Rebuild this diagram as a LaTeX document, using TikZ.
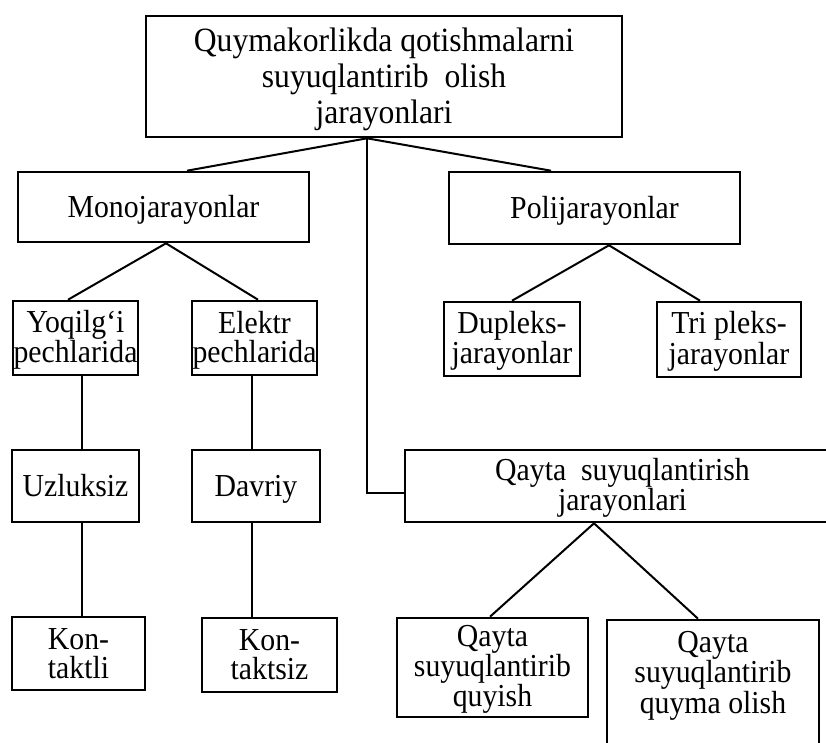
\documentclass[tikz,border=0pt]{standalone}
\usepackage{fontspec}
\setmainfont[FakeStretch=0.93]{Liberation Serif}
\usetikzlibrary{calc}
\tikzset{
  box/.style={draw, line width=2.6pt, inner sep=0pt, align=center,
    text height=20pt, text depth=0pt,
    font=\fontsize{32}{29}\selectfont},
  twolines/.style={text height=49pt},
  threelines/.style={text height=78pt},
  bigbox/.style={box, text height=94pt, font=\fontsize{34}{36}\selectfont},
  conn/.style={line width=2pt},
  plain/.style={inner sep=0pt, align=center, text height=78pt, text depth=0pt,
    font=\fontsize{32}{29}\selectfont}
}
\begin{document}
\begin{tikzpicture}[x=1pt,y=-1pt]
\useasboundingbox (0,0) rectangle (826,742);
\clip (0,0) rectangle (826,742);
\fill[white] (0,0) rectangle (826,742);

\node[bigbox, minimum width=476pt, minimum height=121pt] (top) at (384,76.5)
  {Quymakorlikda qotishmalarni\\suyuqlantirib\ \ olish\\jarayonlari};

\node[box, minimum width=291pt, minimum height=70pt] (mono) at (163.5,207) {Monojarayonlar};
\node[box, minimum width=291pt, minimum height=72pt] (poli) at (594.5,208) {Polijarayonlar};

\node[box, twolines, minimum width=125pt, minimum height=74pt] (yoq) at (75.5,338) {Yoqilg‘i\\pechlarida};
\node[box, twolines, minimum width=125pt, minimum height=74pt] (elek) at (254.5,338) {Elektr\\pechlarida};

\node[box, twolines, minimum width=136pt, minimum height=74pt] (dup) at (512,339) {Dupleks-\\jarayonlar};
\node[box, twolines, minimum width=144pt, minimum height=75pt] (tri) at (729,339.5) {Tri pleks-\\jarayonlar};

\node[box, minimum width=127pt, minimum height=72pt] (uzl) at (75.5,486) {Uzluksiz};
\node[box, minimum width=128pt, minimum height=72pt] (dav) at (256,486) {Davriy};

\node[box, twolines, minimum width=435pt, minimum height=72pt] (qayta) at (622.5,486)
  {Qayta\ \ suyuqlantirish\\jarayonlari};

\node[box, twolines, minimum width=133pt, minimum height=73pt] (kon) at (78.5,653.5) {Kon-\\taktli};
\node[box, twolines, minimum width=135pt, minimum height=74pt] (konsiz) at (269.5,655) {Kon-\\taktsiz};

\node[box, threelines, minimum width=191pt, minimum height=99pt] (quyish) at (492.5,667.5)
  {Qayta\\suyuqlantirib\\quyish};
\node[box, minimum width=212pt, minimum height=160pt] (quyma) at (713,700) {};
\node[plain] (quymat) at (713,674) {Qayta\\suyuqlantirib\\quyma olish};

% connectors
\draw[conn] ($(top.south)+(-17,0)$) -- ($(mono.north)+(23.5,0)$);
\draw[conn] ($(top.south)+(-17,0)$) -- ($(poli.north)+(-43.5,0)$);
\draw[conn] ($(top.south)+(-17,0)$) |- ($(qayta.west)+(0,7)$);

\draw[conn] ($(mono.south)+(2.5,0)$) -- ($(yoq.north)+(-7.5,0)$);
\draw[conn] ($(mono.south)+(2.5,0)$) -- ($(elek.north)+(3.5,0)$);

\draw[conn] ($(poli.south)+(14.5,0)$) -- (dup.north);
\draw[conn] ($(poli.south)+(14.5,0)$) -- ($(tri.north)+(-29,0)$);

\draw[conn] ($(yoq.south)+(6.5,0)$) -- ($(uzl.north)+(6.5,0)$);
\draw[conn] ($(uzl.south)+(6.5,0)$) -- ($(kon.north)+(3.5,0)$);

\draw[conn] ($(elek.south)+(-2.5,0)$) -- ($(dav.north)+(-4,0)$);
\draw[conn] ($(dav.south)+(-4,0)$) -- ($(konsiz.north)+(-17.5,0)$);

\draw[conn] ($(qayta.south)+(-28.5,0)$) -- ($(quyish.north)+(-2.5,0)$);
\draw[conn] ($(qayta.south)+(-28.5,0)$) -- ($(quyma.north)+(-15,0)$);
\end{tikzpicture}
\end{document}
